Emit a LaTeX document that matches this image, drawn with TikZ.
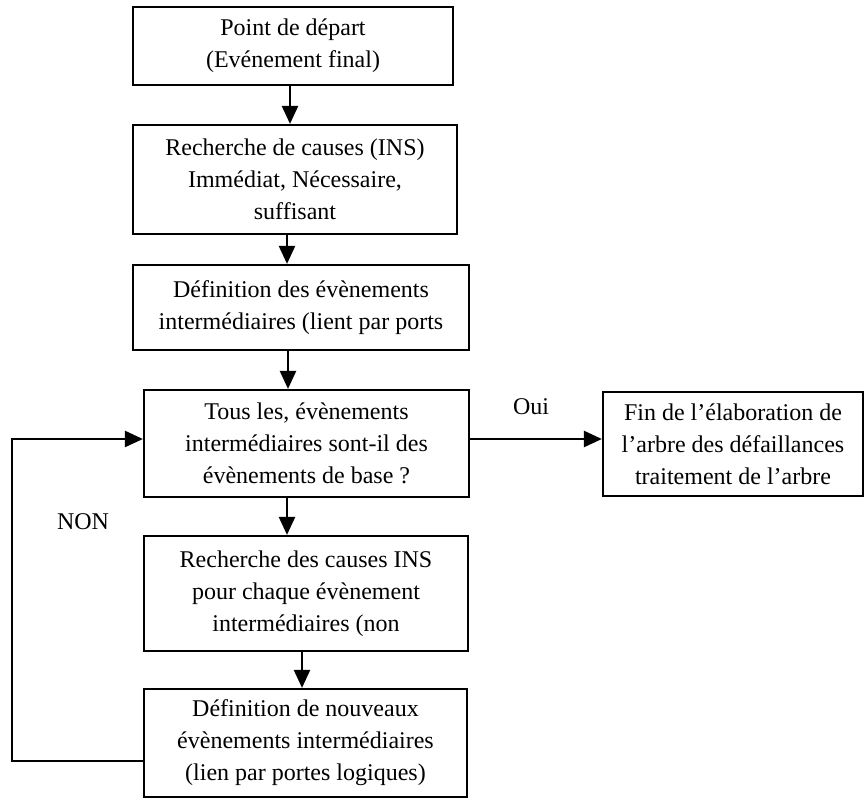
\documentclass[tikz,border=0pt]{standalone}
\usepackage{fontspec}
\setmainfont{Liberation Serif}
\usetikzlibrary{arrows.meta,positioning}

\begin{document}
\begin{tikzpicture}[
        x=1pt, y=-1pt,
        box/.style={rectangle, draw, line width=2.2pt, inner sep=0pt, align=center, font=\fontsize{24}{32}\selectfont},
        arrow/.style={-{Triangle[length=18pt,width=16pt]}, line width=2.4pt},
        tag/.style={font=\fontsize{24}{32}\selectfont}
    ]
    \useasboundingbox (0,0) rectangle (868,800);

    % Nodes
    \node[box, minimum width=320pt, minimum height=78pt] (start) at (293,46) {Point de départ \\ (Evénement final)};
    \node[box, minimum width=324pt, minimum height=109pt] (causes) at (295,179.5) {Recherche de causes (INS) \\ Immédiat, Nécessaire, \\ suffisant};
    \node[box, minimum width=336pt, minimum height=85pt] (defev) at (301,307.5) {Définition des évènements \\ intermédiaires (lient par ports};
    \node[box, minimum width=325pt, minimum height=107pt] (check) at (306.5,443.5) {Tous les, évènements \\ intermédiaires sont-il des \\ évènements de base ?};
    \node[box, minimum width=324pt, minimum height=115pt] (search) at (306,593.5) {Recherche des causes INS \\ pour chaque évènement \\ intermédiaires (non};
    \node[box, minimum width=323pt, minimum height=108pt] (newev) at (305.5,743) {Définition de nouveaux \\ évènements intermédiaires \\ (lien par portes logiques)};
    \node[box, minimum width=260pt, minimum height=104pt] (fin) at (733,444) {Fin de l’élaboration de \\ l’arbre des défaillances \\ traitement de l’arbre};

    \node[tag] (oui) at (531,407) {Oui};
    \node[tag] (non) at (83,522) {NON};
    \coordinate (loop) at (12,761);

    % Arrows
    \draw[arrow] ([xshift=-3pt]start.south) -- ([xshift=-3pt]start.south |- causes.north);
    \draw[arrow] ([xshift=-8pt]causes.south) -- ([xshift=-8pt]causes.south |- defev.north);
    \draw[arrow] ([xshift=-13pt]defev.south) -- ([xshift=-13pt]defev.south |- check.north);
    \draw[arrow] ([xshift=-19.5pt]check.south) -- ([xshift=-19.5pt]check.south |- search.north);
    \draw[arrow] ([xshift=-4pt]search.south) -- ([xshift=-4pt]search.south |- newev.north);
    \draw[arrow] ([yshift=4.5pt]check.east) -- ([yshift=4.5pt]check.east -| fin.west);

    % Loop back for NON
    \draw[arrow] ([yshift=-18pt]newev.west) -- (loop) |- ([yshift=4.5pt]check.west);

\end{tikzpicture}
\end{document}
